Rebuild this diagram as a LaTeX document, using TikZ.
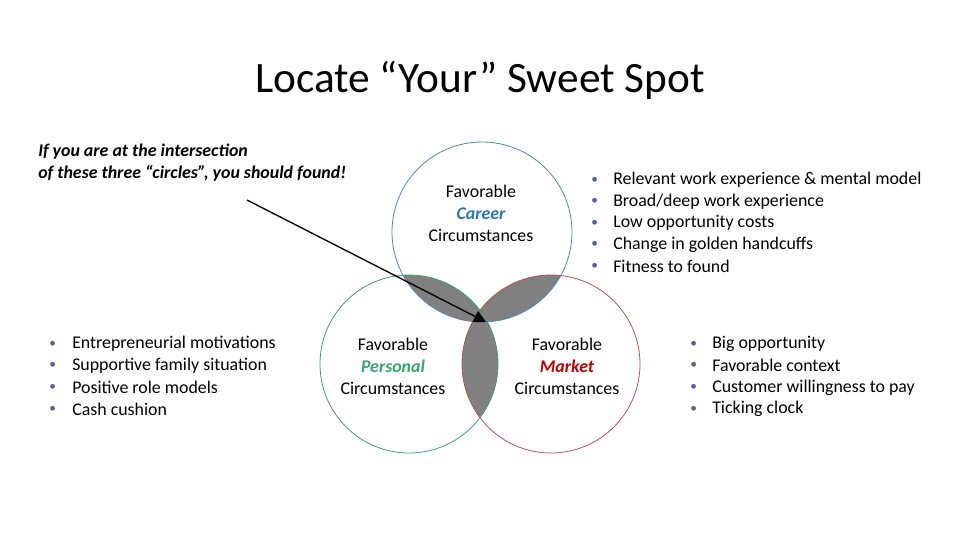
\documentclass[tikz,border=0pt]{standalone}
\usepackage{fontspec}
\usetikzlibrary{arrows.meta}
\setmainfont{Carlito}
\definecolor{cblue}{HTML}{4F81BD}
\definecolor{cbluet}{HTML}{2E75B6}
\definecolor{cgreen}{HTML}{3AA370}
\definecolor{cred}{HTML}{C0504D}
\definecolor{dred}{HTML}{C00000}
\begin{document}
\begin{tikzpicture}[x=0.75pt,y=-0.75pt,
  txt/.style={font=\fontsize{13.4}{16}\selectfont,anchor=west,inner sep=0pt},
  bul/.style={font=\fontsize{10}{12}\selectfont,anchor=west,inner sep=0pt,text=gray!70!blue},
  lab/.style={font=\fontsize{13.4}{16.5}\selectfont,align=center,inner sep=0pt},
  circ/.style={line width=0.6pt}]
\useasboundingbox (0,0) rectangle (960,540);
\def\ctop{(482,232) circle (90)}
\def\cleft{(409,364) circle (89)}
\def\cright{(551,364) circle (89)}
\begin{scope}\clip \ctop; \fill[gray] \cleft; \fill[gray] \cright; \end{scope}
\begin{scope}\clip \cleft; \fill[gray] \cright; \end{scope}
\draw[circ,cblue!80!gray] \ctop;
\draw[circ,cgreen] \cleft;
\draw[circ,cred] \cright;
\node[font=\fontsize{32.5}{38}\selectfont] (title) at (480,80) {Locate “Your” Sweet Spot};
\node[font=\fontsize{13.4}{16.5}\selectfont\bfseries\itshape,align=left,anchor=north west,inner sep=0pt] (note) at (38,144) {If you are at the intersection\\of these three “circles”, you should found!};
\coordinate (as) at (247,200);
\coordinate (ae) at (486,322);
\draw[-{Triangle[length=9pt,width=9pt]},line width=1pt] (as) -- (ae);
\node[lab] (ct) at (481,213) {Favorable\\\textcolor{cbluet}{\bfseries\itshape Career}\\Circumstances};
\node[lab] (cl) at (393,366) {Favorable\\\textcolor{cgreen}{\bfseries\itshape Personal}\\Circumstances};
\node[lab] (cr) at (567,366) {Favorable\\\textcolor{dred}{\bfseries\itshape Market}\\Circumstances};
\foreach \t [count=\i] in {Entrepreneurial motivations,Supportive family situation,Positive role models,Cash cushion}{
  \node[bul] (l\i) at (49,344+21.7*\i-21.7) {•};
  \node[txt] (lt\i) at (72,344+21.7*\i-21.7) {\t};}
\foreach \t [count=\i] in {Relevant work experience \& mental model,Broad/deep work experience,Low opportunity costs,Change in golden handcuffs,Fitness to found}{
  \node[bul] (t\i) at (591,180+21.5*\i-21.5) {•};
  \node[txt] (tt\i) at (613,180+21.5*\i-21.5) {\t};}
\foreach \t [count=\i] in {Big opportunity,Favorable context,Customer willingness to pay,Ticking clock}{
  \node[bul] (r\i) at (690,344+21.7*\i-21.7) {•};
  \node[txt] (rt\i) at (712,344+21.7*\i-21.7) {\t};}
\end{tikzpicture}
\end{document}
